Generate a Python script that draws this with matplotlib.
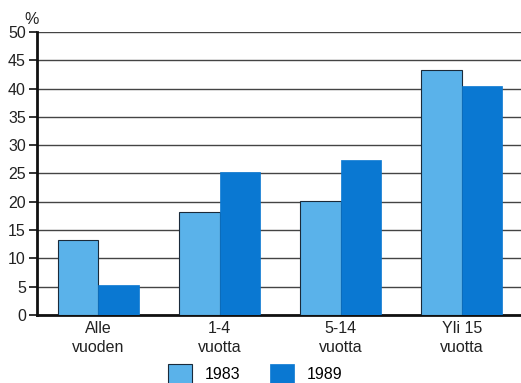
import matplotlib
matplotlib.use("Agg")
import matplotlib.pyplot as plt
import numpy as np

categories = ["Alle\nvuoden", "1-4\nvuotta", "5-14\nvuotta", "Yli 15\nvuotta"]
series_names = ["1983", "1989"]
values_1983 = [13.2, 18.2, 20.1, 43.3]
values_1989 = [5.3, 25.3, 27.4, 40.5]
yticks = [0, 5, 10, 15, 20, 25, 30, 35, 40, 45, 50]

plt.rcParams['font.family'] = ['Liberation Sans', 'DejaVu Sans']

fig = plt.figure(figsize=(5.21, 3.83), dpi=100)
ax = fig.add_axes([0.071, 0.1775, 0.929, 0.739])

x = np.arange(len(categories))
w = 0.335
ax.bar(x - w/2, values_1983, w, color='#5ab2ea', edgecolor='#1a2a3a', linewidth=0.8,
       label=series_names[0], zorder=3)
ax.bar(x + w/2, values_1989, w, color='#0a78d2', edgecolor='#0a78d2', linewidth=0.5,
       label=series_names[1], zorder=3)

fs = 11.5
ax.set_xlim(-0.508, 3.49)
ax.set_ylim(0, 50)
ax.set_yticks(yticks)
ax.set_yticklabels([str(t) for t in yticks], fontsize=fs, color='#222222')
ax.set_xticks(x)
ax.set_xticklabels(categories, fontsize=fs, color='#222222', linespacing=1.4)
ax.tick_params(axis='x', length=0, pad=4)
ax.tick_params(axis='y', length=6, width=1.2, pad=2, color='#111111')

ax.yaxis.grid(True, color='#444444', linewidth=1.0, zorder=0)
ax.set_axisbelow(True)
for s in ['top', 'right']:
    ax.spines[s].set_visible(False)
ax.spines['left'].set_linewidth(2.0)
ax.spines['bottom'].set_linewidth(2.0)
ax.spines['left'].set_color('#111111')
ax.spines['bottom'].set_color('#111111')

fig.text(0.046, 0.95, "%", fontsize=fs, color='#222222', ha='left', va='center')

fig.legend(loc='lower center', bbox_to_anchor=(0.49, -0.04), ncol=2, frameon=False,
           fontsize=fs, handlelength=1.5, handleheight=1.5, columnspacing=1.9,
           handletextpad=0.8)

fig.savefig("out.png", dpi=100)
